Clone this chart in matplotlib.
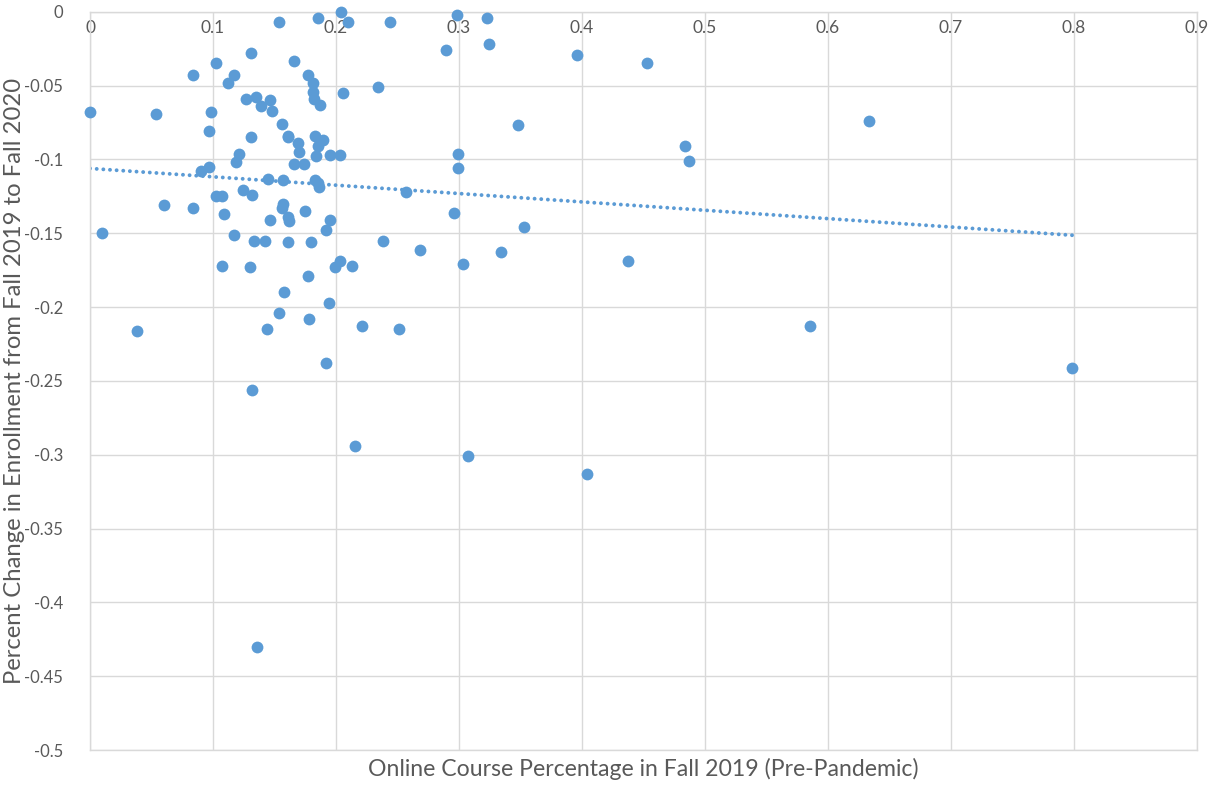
import matplotlib.pyplot as plt
import numpy as np

plt.rcParams['font.family'] = ['Lato', 'DejaVu Sans']

# online course share in fall 2019
online_pct = [0.000, 0.054, 0.010, 0.038, 0.060, 0.084, 0.084, 0.090, 0.097, 0.098,
              0.097, 0.102, 0.102, 0.107, 0.107, 0.109, 0.112, 0.117, 0.117, 0.119,
              0.121, 0.124, 0.127, 0.130, 0.131, 0.131, 0.133, 0.132, 0.132, 0.135,
              0.136, 0.139, 0.142, 0.144, 0.145, 0.146, 0.146, 0.148, 0.154, 0.156,
              0.154, 0.156, 0.157, 0.157, 0.158, 0.161, 0.161, 0.161, 0.162, 0.161,
              0.166, 0.166, 0.169, 0.170, 0.174, 0.175, 0.177, 0.177, 0.178, 0.180,
              0.181, 0.181, 0.182, 0.183, 0.183, 0.185, 0.184, 0.185, 0.186, 0.185,
              0.187, 0.189, 0.192, 0.192, 0.194, 0.195, 0.195, 0.199, 0.203, 0.203,
              0.204, 0.206, 0.210, 0.213, 0.215, 0.221, 0.234, 0.238, 0.244, 0.251,
              0.257, 0.268, 0.289, 0.298, 0.296, 0.299, 0.299, 0.303, 0.307, 0.323,
              0.324, 0.334, 0.348, 0.353, 0.396, 0.404, 0.437, 0.453, 0.484, 0.487,
              0.585, 0.633, 0.798]

# enrollment change fall 2019 -> fall 2020
enroll_change = [-0.068, -0.069, -0.150, -0.216, -0.131, -0.043, -0.133, -0.108, -0.105, -0.068,
                 -0.081, -0.035, -0.125, -0.125, -0.172, -0.137, -0.048, -0.043, -0.151, -0.102,
                 -0.096, -0.121, -0.059, -0.173, -0.028, -0.085, -0.155, -0.124, -0.256, -0.058,
                 -0.430, -0.064, -0.155, -0.215, -0.113, -0.060, -0.141, -0.067, -0.007, -0.076,
                 -0.204, -0.133, -0.130, -0.114, -0.190, -0.084, -0.085, -0.139, -0.142, -0.156,
                 -0.033, -0.103, -0.089, -0.095, -0.103, -0.135, -0.043, -0.179, -0.208, -0.156,
                 -0.048, -0.054, -0.059, -0.084, -0.114, -0.091, -0.098, -0.116, -0.119, -0.004,
                 -0.063, -0.087, -0.148, -0.238, -0.197, -0.097, -0.141, -0.173, -0.169, -0.097,
                 0.000, -0.055, -0.007, -0.172, -0.294, -0.213, -0.051, -0.155, -0.007, -0.215,
                 -0.122, -0.161, -0.026, -0.002, -0.136, -0.096, -0.106, -0.171, -0.301, -0.004,
                 -0.022, -0.163, -0.077, -0.146, -0.029, -0.313, -0.169, -0.035, -0.091, -0.101,
                 -0.213, -0.074, -0.241]

x = np.array(online_pct)
y = np.array(enroll_change)
blue = '#5B9BD5'
grey = '#595959'

fig = plt.figure(figsize=(12.17, 7.87), dpi=100)
ax = fig.add_axes([0.074, 0.047, 0.9096, 0.938])

ax.plot(x, y, 'o', color=blue, markersize=8.5, markeredgewidth=0, zorder=3, clip_on=False)

# linear trendline
slope, icpt = np.polyfit(x, y, 1)
tx = np.array([0, 0.8])
ax.plot(tx, icpt + slope * tx, color=blue, lw=2.8, linestyle=(0, (0.01, 1.7)),
        dash_capstyle='round', zorder=2)

xt = np.round(np.arange(0, 0.91, 0.1), 2)
yt = np.round(np.arange(-0.5, 0.001, 0.05), 2)
ax.set_xlim(0, 0.9)
ax.set_ylim(-0.5, 0)
ax.set_xticks(xt)
ax.set_yticks(yt)
ax.set_xticklabels([f'{v:g}' for v in xt])
ax.set_yticklabels([f'{v:g}' if abs(v) > 1e-9 else '0' for v in yt])
ax.grid(True, color='#D9D9D9', lw=1)
ax.set_axisbelow(True)
for s in ax.spines.values():
    s.set_color('#D9D9D9')
    s.set_linewidth(1)

ax.tick_params(axis='x', bottom=False, top=False, labelbottom=False, labeltop=True,
               pad=-21, labelsize=12.5, labelcolor=grey)
ax.tick_params(axis='y', left=False, pad=16, labelsize=12, labelcolor=grey)

ax.set_xlabel('Online Course Percentage in Fall 2019 (Pre-Pandemic)', fontsize=16.6,
              color=grey, labelpad=6)
ax.xaxis.set_label_position('bottom')
ax.set_ylabel('Percent Change in Enrollment from Fall 2019 to Fall 2020', fontsize=17.2,
              color=grey)
ax.yaxis.set_label_coords(-0.059, 0.5)

fig.savefig('out.png', dpi=100)
